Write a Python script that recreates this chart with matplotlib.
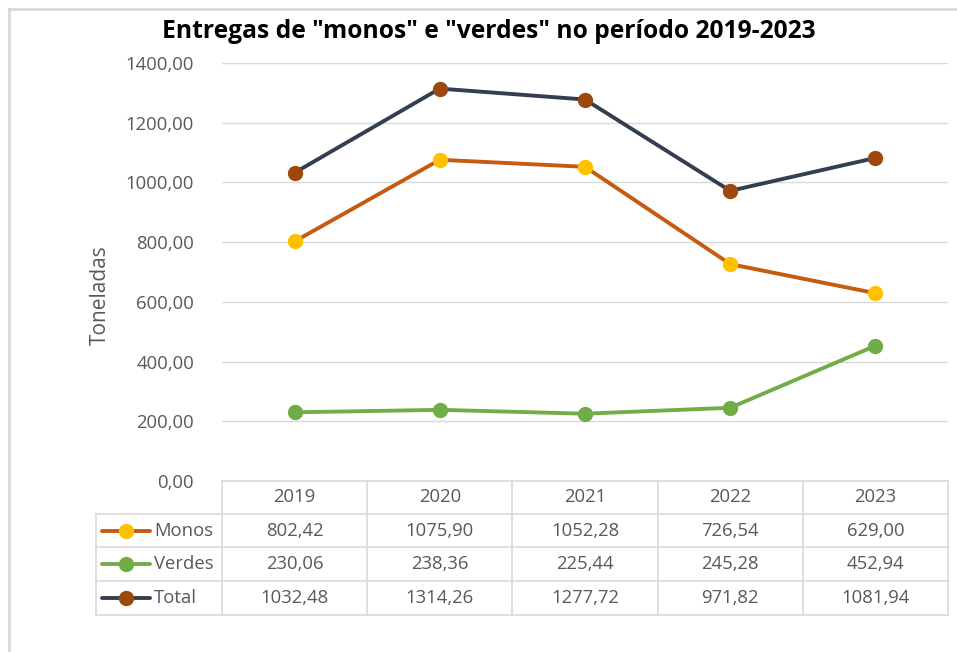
import matplotlib
matplotlib.use("Agg")
import matplotlib.pyplot as plt
from matplotlib.lines import Line2D
from matplotlib.ticker import FuncFormatter

# dados
anos = ["2019", "2020", "2021", "2022", "2023"]
monos = [802.42, 1075.90, 1052.28, 726.54, 629.00]
verdes = [230.06, 238.36, 225.44, 245.28, 452.94]
total = [1032.48, 1314.26, 1277.72, 971.82, 1081.94]
series_nomes = ["Monos", "Verdes", "Total"]

plt.rcParams["font.family"] = ["Open Sans", "DejaVu Sans"]
cinza = "#595959"
grade = "#D9D9D9"
fs = 13.3

W, H = 957, 652
fig = plt.figure(figsize=(W / 100, H / 100), dpi=100)

def fx(px):
    return px / W

def fy(py):
    return 1 - py / H

# area do grafico (pixels: x 222-948, y 63-481)
ax = fig.add_axes([fx(222), fy(481), fx(948 - 222), (481 - 63) / H])
x = list(range(len(anos)))

estilos = [
    dict(color="#C55A11", markerfacecolor="#FFC000", markeredgecolor="#FFC000"),
    dict(color="#70AD47", markerfacecolor="#70AD47", markeredgecolor="#70AD47"),
    dict(color="#333F50", markerfacecolor="#9E480E", markeredgecolor="#9E480E"),
]
dados = [monos, verdes, total]
for vals, st in zip(dados, estilos):
    ax.plot(x, vals, lw=2.8, marker="o", ms=10, zorder=3, **st)

ax.set_xlim(-0.5, len(anos) - 0.5)
ax.set_ylim(0, 1400)
ax.set_yticks(range(0, 1401, 200))
ax.yaxis.set_major_formatter(FuncFormatter(lambda v, p: f"{v:.2f}".replace(".", ",")))
ax.tick_params(axis="y", length=0, pad=20, labelsize=fs, labelcolor=cinza)
ax.set_xticks([])
ax.grid(axis="y", color=grade, lw=1)
ax.set_axisbelow(True)
for s in ax.spines.values():
    s.set_visible(False)

ax.set_ylabel("Toneladas", fontsize=15, color=cinza)
ax.yaxis.set_label_coords((111 - 222) / (948 - 222), (481 - 295) / (481 - 63))

fig.text(fx(489), fy(31), 'Entregas de "monos" e "verdes" no período 2019-2023',
         ha="center", va="center", fontsize=17.7, fontweight="bold", color="black")

# tabela de dados
def px_de_x(v):
    # pixel x da coordenada de dados
    return ax.transData.transform((v, 0))[0]

cols = [px_de_x(i - 0.5) for i in range(len(anos) + 1)]
linhas_y = [481, 514, 547, 581, 615]
esq = 96

def linha(x0, x1, y0, y1):
    fig.add_artist(Line2D([fx(x0), fx(x1)], [fy(y0), fy(y1)], color=grade, lw=1.2))

# cabeçalho
linha(cols[0], cols[-1], linhas_y[0], linhas_y[0])
for c in cols:
    linha(c, c, linhas_y[0], linhas_y[-1])
for yy in linhas_y[1:]:
    linha(esq, cols[-1], yy, yy)
linha(esq, esq, linhas_y[1], linhas_y[-1])

for i, a in enumerate(anos):
    cx = (cols[i] + cols[i + 1]) / 2
    fig.text(fx(cx), fy((linhas_y[0] + linhas_y[1]) / 2), a, ha="center", va="center",
             fontsize=fs, color=cinza)

for r, (nome, vals, st) in enumerate(zip(series_nomes, dados, estilos)):
    yc = (linhas_y[r + 1] + linhas_y[r + 2]) / 2
    fig.add_artist(Line2D([fx(102), fx(150)], [fy(yc), fy(yc)], lw=2.8,
                          solid_capstyle="round", color=st["color"]))
    fig.add_artist(Line2D([fx(126)], [fy(yc)], marker="o", ms=10, lw=0,
                          markerfacecolor=st["markerfacecolor"],
                          markeredgecolor=st["markeredgecolor"]))
    fig.text(fx(154), fy(yc), nome, ha="left", va="center", fontsize=fs, color=cinza)
    for i, v in enumerate(vals):
        cx = (cols[i] + cols[i + 1]) / 2
        fig.text(fx(cx), fy(yc), f"{v:.2f}".replace(".", ","), ha="center", va="center",
                 fontsize=fs, color=cinza)

# moldura parcial da figura
fig.add_artist(Line2D([fx(8.5), fx(8.5)], [fy(8.5), 0], color="#D9D9D9", lw=2))
fig.add_artist(Line2D([fx(8.5), 1], [fy(8.5), fy(8.5)], color="#D9D9D9", lw=2))

fig.savefig("out.png", dpi=100)
